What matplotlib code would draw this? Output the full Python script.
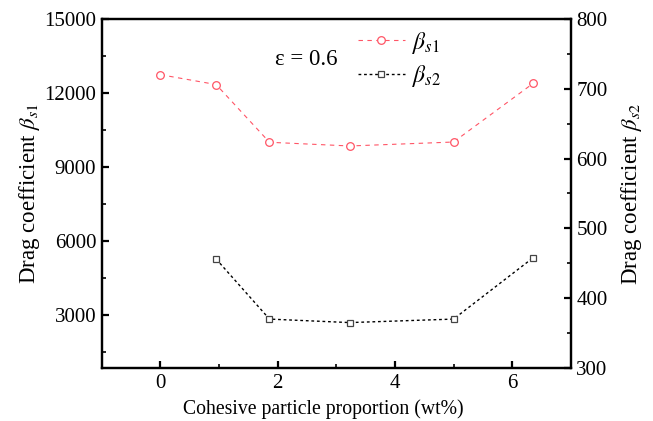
import numpy as np
import matplotlib
matplotlib.use('Agg')
import matplotlib.pyplot as plt
from matplotlib.ticker import MultipleLocator

# Datos
proporcion = [0, 0.95, 1.86, 3.23, 5.0, 6.36]
beta_s1 = [12740, 12340, 10000, 9850, 10010, 12390]
proporcion_s2 = [0.95, 1.86, 3.23, 5.0, 6.36]
beta_s2 = [456, 370, 365, 370, 458]

plt.rcParams['font.family'] = ['Liberation Serif', 'DejaVu Serif']
plt.rcParams['mathtext.fontset'] = 'stix'

rojo = '#ff5566'

fig = plt.figure(figsize=(6.53, 4.21), dpi=100)
ax = fig.add_axes([0.156, 0.126, 0.718, 0.829])
ax2 = ax.twinx()

l1, = ax.plot(proporcion, beta_s1, linestyle=(0, (4, 4)), color=rojo, lw=0.8,
              marker='o', mfc='white', mec=rojo, ms=5.5, mew=0.9, label=r'$\beta_{s1}$')
l2, = ax2.plot(proporcion_s2, beta_s2, linestyle=(0, (2, 2)), color='black', lw=1.0,
               marker='s', mfc='white', mec='#444444', ms=5, mew=0.9, label=r'$\beta_{s2}$')

ax.set_xlim(-1, 7)
ax.set_ylim(850, 15000)
ax2.set_ylim(300, 800)
ax.set_xticks([0, 2, 4, 6])
ax.xaxis.set_minor_locator(MultipleLocator(1))
ax.set_yticks([3000, 6000, 9000, 12000, 15000])
ax.yaxis.set_minor_locator(MultipleLocator(1500))
ax2.set_yticks([300, 400, 500, 600, 700, 800])
ax2.yaxis.set_minor_locator(MultipleLocator(50))

for a in (ax, ax2):
    for s in a.spines.values():
        s.set_linewidth(1.6)
    a.tick_params(which='major', direction='in', length=5, width=1.6, labelsize=15, pad=4)
    a.tick_params(which='minor', direction='in', length=3, width=1.2)
ax.tick_params(axis='y', right=False, which='both')
ax.tick_params(axis='x', top=False, which='both')

ax.set_xlabel('Cohesive particle proportion (wt%)', fontsize=14.2)
ax.xaxis.set_label_coords(0.473, -0.117)
ax.xaxis.label.set_va('center')
ax.set_ylabel(r'Drag coefficient $\beta_{s1}$', fontsize=16.5, labelpad=2)
ax2.set_ylabel(r'Drag coefficient $\beta_{s2}$', fontsize=16.5, labelpad=8)

ax.text(0.369, 0.885, 'ε = 0.6', transform=ax.transAxes, fontsize=16.5, ha='left', va='center')

leg = ax.legend(handles=[l1, l2], loc='upper left', bbox_to_anchor=(0.5, 1.03),
                frameon=False, fontsize=17, handlelength=2.0, handletextpad=0.3,
                labelspacing=0.3)

plt.savefig('out.png', dpi=100)
